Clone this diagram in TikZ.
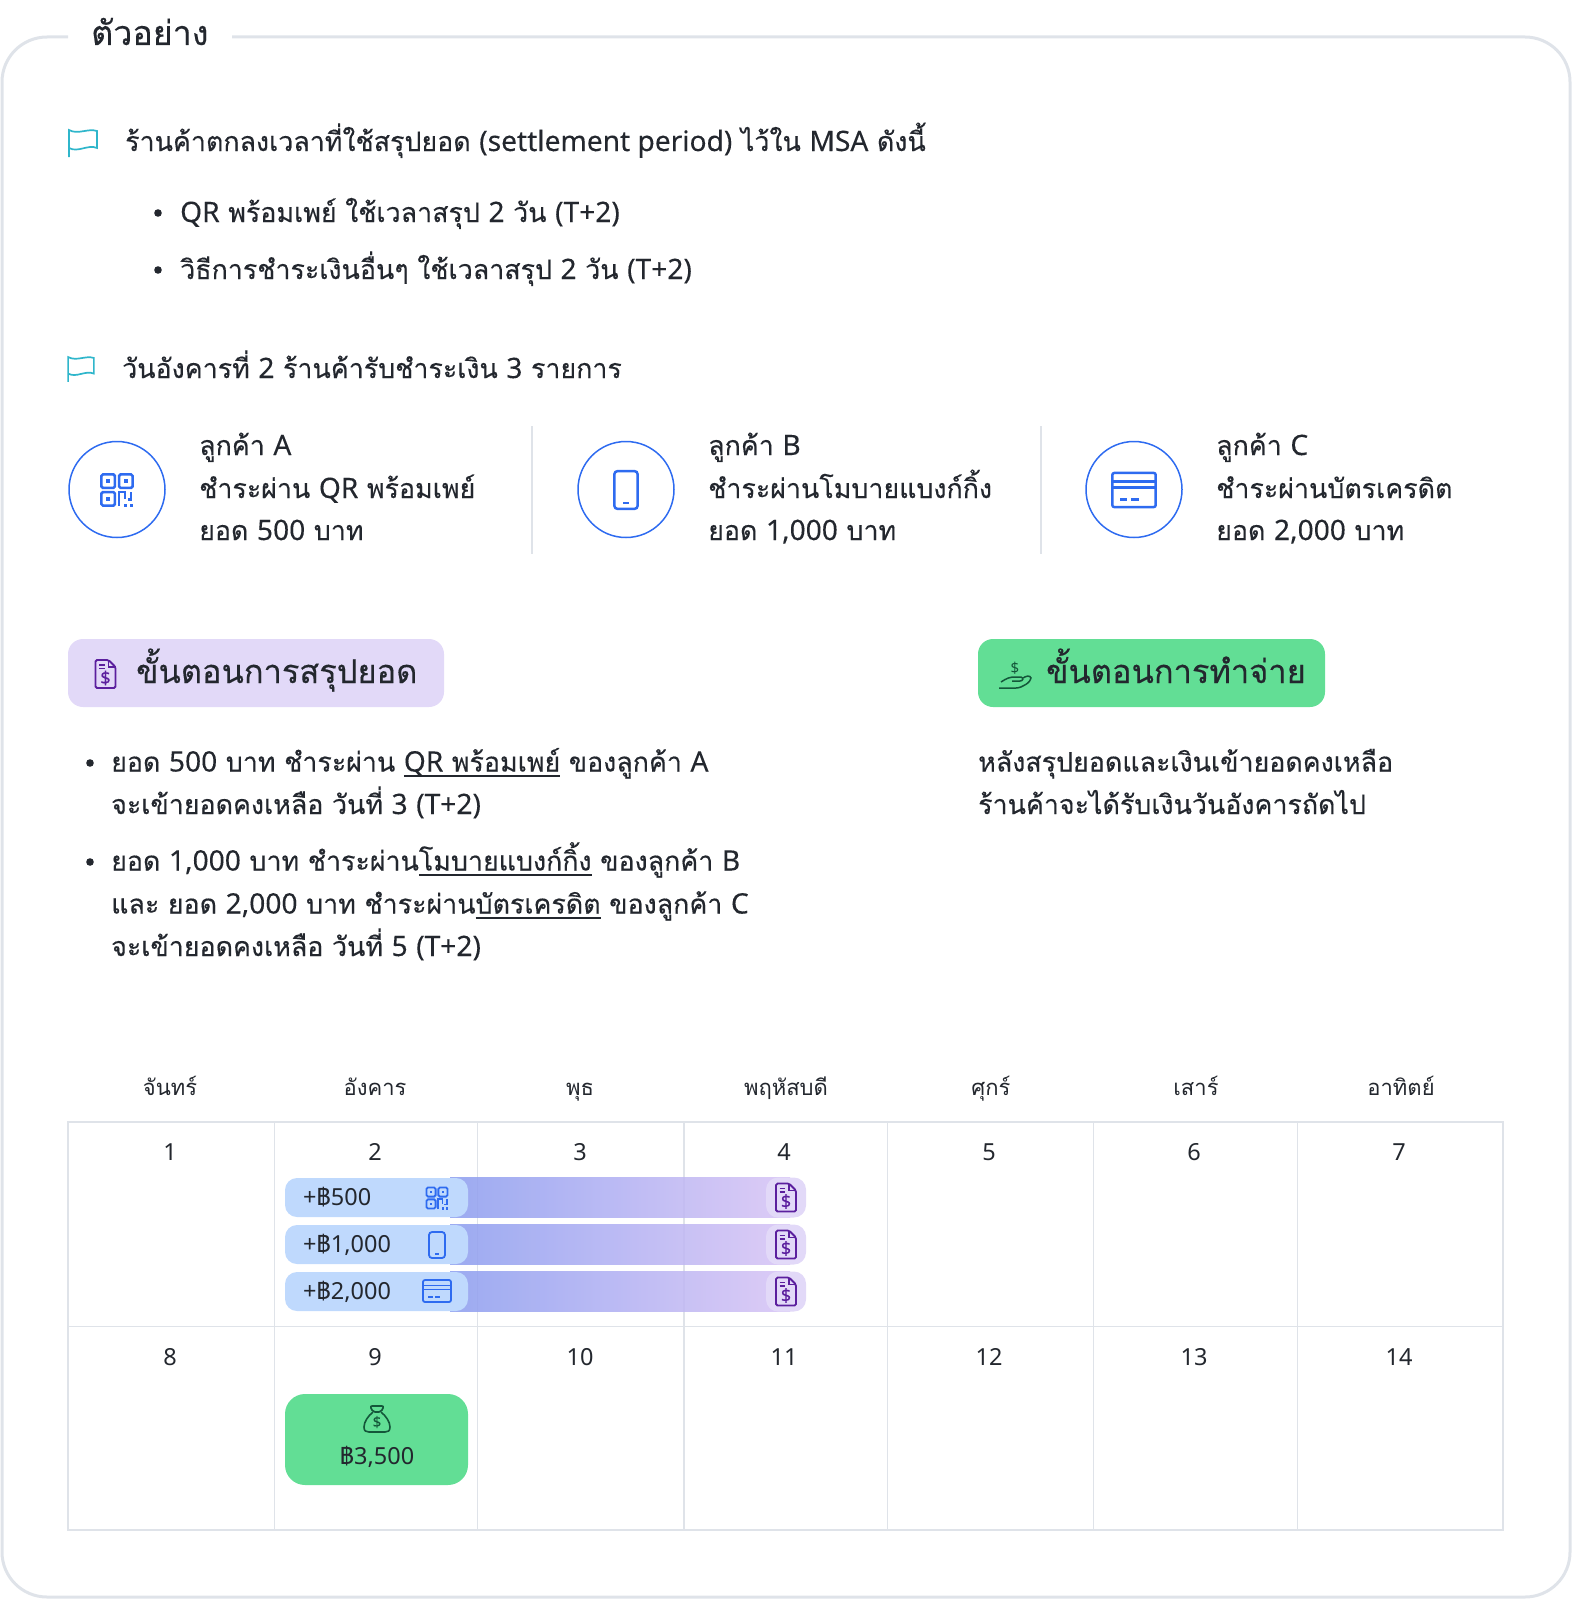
\documentclass[tikz,border=0pt]{standalone}
\usepackage{fontspec}
\setmainfont[Script=Thai,FakeBold=0.3,WordSpace=0.95]{Loma}
\newfontfamily\thaiplain[Script=Thai]{Loma}
\newfontfamily\latinbody[FakeBold=0.2,Scale=1.05]{Noto Sans}
\newfontfamily\latinplain{Noto Sans}
\newcommand{\la}[1]{{\latinbody #1}}
\newcommand{\lineunder}[1]{\setbox0\hbox{#1}\rlap{\rule[-5.5pt]{\wd0}{1.7pt}}\box0\relax}
\usetikzlibrary{calc}
\definecolor{inkdark}{HTML}{23272E}
\definecolor{framegrey}{HTML}{DFE3E9}
\definecolor{flagteal}{HTML}{2FB6CB}
\definecolor{iconblue}{HTML}{2E6BF0}
\definecolor{iconpurple}{HTML}{5B1F9E}
\definecolor{icongreen}{HTML}{14573A}
\definecolor{tabpurple}{HTML}{E2D9F8}
\definecolor{paygreen}{HTML}{62DE95}
\definecolor{pillblue}{HTML}{BFD9FD}
\definecolor{barleft}{HTML}{8E9FEF}
\definecolor{barright}{HTML}{D8C4F5}
\tikzset{
	body/.style={anchor=base west, inner sep=0, text=inkdark, font=\fontsize{26.8}{30}\selectfont},
	heading/.style={anchor=base west, inner sep=0, text=inkdark, font=\fontsize{32.6}{38}\selectfont},
	daylabel/.style={anchor=base, inner sep=0, text=inkdark, font=\fontsize{22}{26}\thaiplain},
	pilltext/.style={anchor=base west, inner sep=0, text=inkdark, font=\fontsize{23.5}{28}\latinplain},
	gridline/.style={draw=framegrey, line width=1.8pt},
	pics/flagmark/.style={code={
		\draw[flagteal, line width=1.7pt] (-14,14) -- (-14,-13) .. controls (-5,-8) and (5,-15) .. (14,-12) -- (14,5) .. controls (5,1) and (-5,10) .. (-14,5);
	}},
	pics/qrmark/.style={code={
		\foreach \cx/\cy in {-6.5/-6.5, 6.5/-6.5, -6.5/6.5} {
			\draw[rounded corners=1.5] (\cx-5,\cy-5) rectangle (\cx+5,\cy+5);
			\fill (\cx-1.3,\cy-1.3) rectangle (\cx+1.3,\cy+1.3);
		}
		\draw (1.5,12) -- (1.5,1.5) -- (6,1.5) -- (6,7);
		\draw (10.5,1.5) -- (10.5,7) -- (8,7);
		\fill (5,10) rectangle (7.5,12.5);
		\fill (9.5,10) rectangle (12,12.5);
	}},
	pics/phonemark/.style={code={
		\draw[rounded corners=3] (-8,-13) rectangle (8,13);
		\draw (-2,9) -- (2,9);
	}},
	pics/cardmark/.style={code={
		\draw[rounded corners=2] (-14,-11) rectangle (14,11);
		\draw (-14,-5.5) -- (14,-5.5);
		\draw (-14,-1.5) -- (14,-1.5);
		\draw (-9,6) -- (-4.5,6);
		\draw (-2,6) -- (3,6);
	}},
	pics/docmark/.style={code={
		\draw[rounded corners=1.5, line width=1.8pt] (-10,-14) -- (3,-14) -- (10,-7) -- (10,14) -- (-10,14) -- cycle;
		\draw[line width=1.8pt] (3,-14) -- (3,-7) -- (10,-7);
		\draw[line width=1.6pt] (-6.5,-9) -- (-1,-9);
		\draw[line width=1.6pt] (-6.5,-5.5) -- (-1,-5.5);
		\node[inner sep=0, font=\fontsize{17}{17}\latinbody] (docsign) at (0,4) {\$};
	}},
	pics/handmark/.style={code={
		\node[inner sep=0, font=\fontsize{15}{15}\latinplain] (handsign) at (0,-7) {\$};
		\draw[line width=1.5pt] (-16,13) -- (1,13) .. controls (7,13) and (16,7) .. (16,3) .. controls (15,0) and (11,1) .. (8,3);
		\draw[line width=1.5pt] (-14,7) .. controls (-8,3) and (-5,2) .. (0,2) -- (6,2) .. controls (9,3) and (8,6) .. (5,6) -- (-3,6);
	}},
	pics/bagmark/.style={code={
		\draw[line width=1.6pt, rounded corners=2] (-7,-13) -- (7,-13) -- (4,-7) -- (-4,-7) -- cycle;
		\draw[line width=1.6pt] (-4,-7) .. controls (-9,-3) and (-13,3) .. (-13,8) .. controls (-13,12) and (-11,13) .. (-8,13) -- (8,13) .. controls (11,13) and (13,12) .. (13,8) .. controls (13,3) and (9,-3) .. (4,-7);
		\node[inner sep=0, font=\fontsize{14}{14}\latinbody] (bagsign) at (0,3) {\$};
	}},
}
\begin{document}
\begin{tikzpicture}[x=1pt, y=-1pt]
	\useasboundingbox (0,0) rectangle (1572,1600);
	% frame with its title
	\draw[framegrey, line width=3pt, rounded corners=45] (68,37) -- (2,37) -- (2,1597) -- (1570,1597) -- (1570,37) -- (232,37);
	\node[heading, font=\fontsize{34}{38}\selectfont] (title) at (91,45) {ตัวอย่าง};
	% terms
	\pic at (83,143) {flagmark};
	\node[body] (terms) at (125,151) {ร้านค้าตกลงเวลาที่ใช้สรุปยอด \la{(settlement period)} ไว้ใน \la{MSA} ดังนี้};
	\fill[inkdark] (158,213) circle (3.8);
	\node[body] (termsqr) at (180,222) {\la{QR} พร้อมเพย์ ใช้เวลาสรุป \la{2} วัน \la{(T+2)}};
	\fill[inkdark] (158,270) circle (3.8);
	\node[body] (termsother) at (180,279) {วิธีการชำระเงินอื่นๆ ใช้เวลาสรุป \la{2} วัน \la{(T+2)}};
	\pic[scale=.92] at (81,369) {flagmark};
	\node[body] (tuesday) at (122,378) {วันอังคารที่ \la{2} ร้านค้ารับชำระเงิน \la{3} รายการ};
	% customers
	\foreach \cx/\nm in {117/A, 626/B, 1134/C}
		\draw[iconblue, line width=1.5pt] (\cx,489.5) circle (48);
	\pic[scale=1.35, line width=2.5pt, iconblue] at (117,490) {qrmark};
	\pic[scale=1.45, line width=2.5pt, iconblue] at (626,490) {phonemark};
	\pic[scale=1.55, line width=2.5pt, iconblue] at (1134,490) {cardmark};
	\draw[framegrey, line width=1.6pt] (532,426) -- (532,554);
	\draw[framegrey, line width=1.6pt] (1041,426) -- (1041,554);
	\node[body] (custA) at (199,455) {ลูกค้า \la{A}};
	\node[body] (payA) at (199,498) {ชำระผ่าน \la{QR} พร้อมเพย์};
	\node[body] (sumA) at (199,540) {ยอด \la{500} บาท};
	\node[body] (custB) at (708,455) {ลูกค้า \la{B}};
	\node[body] (payB) at (708,498) {ชำระผ่านโมบายแบงก์กิ้ง};
	\node[body] (sumB) at (708,540) {ยอด \la{1,000} บาท};
	\node[body] (custC) at (1216,455) {ลูกค้า \la{C}};
	\node[body] (payC) at (1216,498) {ชำระผ่านบัตรเครดิต};
	\node[body] (sumC) at (1216,540) {ยอด \la{2,000} บาท};
	% the two steps
	\fill[tabpurple, rounded corners=15] (68,639) rectangle (444,707);
	\pic[iconpurple] at (105.5,674) {docmark};
	\node[heading] (stepsum) at (136,683) {ขั้นตอนการสรุปยอด};
	\fill[paygreen, rounded corners=15] (978,639) rectangle (1325,707);
	\pic[icongreen] at (1015,675) {handmark};
	\node[heading] (steppay) at (1046,683) {ขั้นตอนการทำจ่าย};
	\fill[inkdark] (90,763) circle (3.8);
	\node[body] (lineone) at (111,771.5) {ยอด \la{500} บาท ชำระผ่าน \lineunder{\la{QR} พร้อมเพย์} ของลูกค้า \la{A}};
	\node[body] (linetwo) at (111,814) {จะเข้ายอดคงเหลือ วันที่ \la{3} \la{(T+2)}};
	\fill[inkdark] (90,862) circle (3.8);
	\node[body] (linethree) at (111,870.5) {ยอด \la{1,000} บาท ชำระผ่าน\lineunder{โมบายแบงก์กิ้ง} ของลูกค้า \la{B}};
	\node[body] (linefour) at (111,913.5) {และ ยอด \la{2,000} บาท ชำระผ่าน\lineunder{บัตรเครดิต} ของลูกค้า \la{C}};
	\node[body] (linefive) at (111,956) {จะเข้ายอดคงเหลือ วันที่ \la{5} \la{(T+2)}};
	\node[body] (payone) at (978,771.5) {หลังสรุปยอดและเงินเข้ายอดคงเหลือ};
	\node[body] (paytwo) at (978,814) {ร้านค้าจะได้รับเงินวันอังคารถัดไป};
	% calendar
	\foreach \cx/\nm/\dy in {170/mon/จันทร์, 375/tue/อังคาร, 580/wed/พุธ, 786/thu/พฤหัสบดี, 991/fri/ศุกร์, 1196/sat/เสาร์, 1401/sun/อาทิตย์}
		\node[daylabel] (\nm) at (\cx,1095) {\dy};
	\foreach \cx [count=\n from 1] in {170,375,580,784,989,1194,1399} {
		\pgfmathtruncatemacro{\m}{\n+7}
		\node[pilltext, anchor=base] (day\n) at (\cx,1160) {\n};
		\node[pilltext, anchor=base] (day\m) at (\cx,1365) {\m};
	}
	\draw[gridline] (68,1122) rectangle (1503,1530);
	\draw[gridline] (68,1326.5) -- (1503,1326.5);
	\foreach \cx in {274.5,477.5,684,887.5,1093.5,1297.5}
		\draw[gridline] (\cx,1122) -- (\cx,1530);
	% the three payments
	\foreach \cy/\nm/\amt in {1197.5/qr/500, 1244.5/mob/{1,000}, 1291.5/crd/{2,000}} {
		\shade[left color=barleft, right color=barright, fill opacity=.88] (450,\cy-20) rectangle (790,\cy+20);
		\fill[pillblue, rounded corners=12] (285,\cy-19.5) rectangle (468,\cy+19.5);
		\fill[tabpurple, rounded corners=12] (766,\cy-20) rectangle (806,\cy+20);
		\pic[iconpurple] at (786,\cy) {docmark};
		\node[pilltext] (pill\nm) at (303,\cy+8) {+{\thaiplain ฿}\amt};
	}
	\pic[scale=.92, line width=1.8pt, iconblue] at (437,1198) {qrmark};
	\pic[line width=1.8pt, iconblue] at (437,1245) {phonemark};
	\pic[line width=1.8pt, iconblue] at (437,1291) {cardmark};
	% the payout
	\fill[paygreen, rounded corners=20] (285,1394) rectangle (468,1485);
	\pic[icongreen] at (377,1419) {bagmark};
	\node[pilltext, anchor=base] (payout) at (377,1464) {{\thaiplain ฿}3,500};
\end{tikzpicture}
\end{document}
